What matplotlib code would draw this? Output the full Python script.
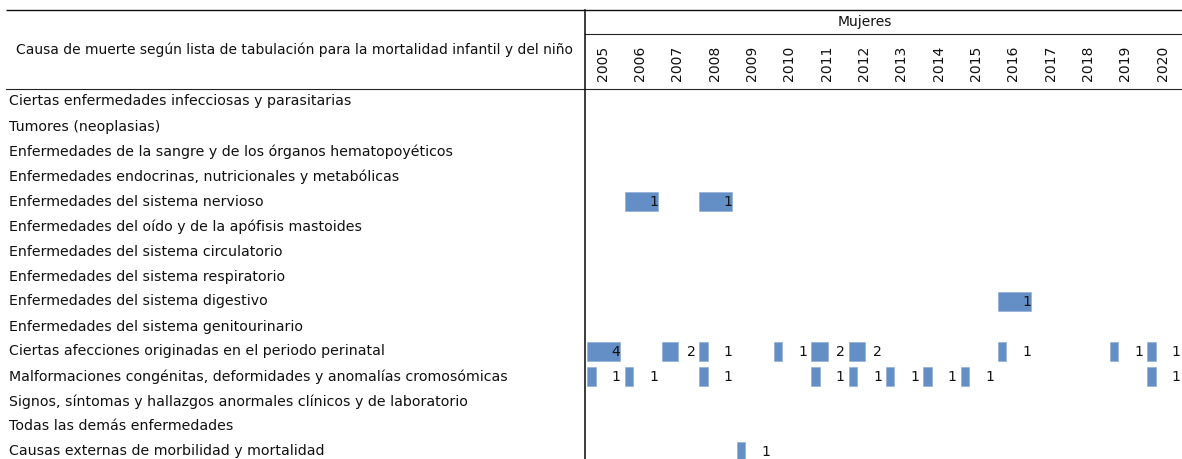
import matplotlib
matplotlib.use("Agg")
import matplotlib.pyplot as plt

# ---- data -------------------------------------------------------------
years = list(range(2005, 2021))

causes = [
    "Ciertas enfermedades infecciosas y parasitarias",
    "Tumores (neoplasias)",
    "Enfermedades de la sangre y de los órganos hematopoyéticos",
    "Enfermedades endocrinas, nutricionales y metabólicas",
    "Enfermedades del sistema nervioso",
    "Enfermedades del oído y de la apófisis mastoides",
    "Enfermedades del sistema circulatorio",
    "Enfermedades del sistema respiratorio",
    "Enfermedades del sistema digestivo",
    "Enfermedades del sistema genitourinario",
    "Ciertas afecciones originadas en el periodo perinatal",
    "Malformaciones congénitas, deformidades y anomalías cromosómicas",
    "Signos, síntomas y hallazgos anormales clínicos y de laboratorio",
    "Todas las demás enfermedades",
    "Causas externas de morbilidad y mortalidad",
]

# deaths per cause and year (missing year = empty cell)
nervioso     = {2006: 1, 2008: 1}
digestivo    = {2016: 1}
perinatal    = {2005: 4, 2007: 2, 2008: 1, 2010: 1, 2011: 2, 2012: 2,
                2016: 1, 2019: 1, 2020: 1}
malformacion = {2005: 1, 2006: 1, 2008: 1, 2011: 1, 2012: 1, 2013: 1,
                2014: 1, 2015: 1, 2020: 1}
externas     = {2009: 1}

values = {
    4: nervioso,
    8: digestivo,
    10: perinatal,
    11: malformacion,
    14: externas,
}

# rows sharing one data-bar scale
bar_groups = [[4], [8], [10, 11, 12, 13, 14]]

title_left = "Causa de muerte según lista de tabulación para la mortalidad infantil y del niño"
title_right = "Mujeres"

# ---- layout (pixels) --------------------------------------------------
W, H = 1182, 459
DPI = 100
PX = 72.0 / DPI          # points per pixel
col_x0 = 586             # left edge of first year column
col_w = 37.33
row_y0 = 89              # top of first data row
row_h = 25
bar_color = "#638EC6"
font = "DejaVu Sans"
ink = "#111111"

fig = plt.figure(figsize=(W / DPI, H / DPI), dpi=DPI)

# overlay axes in pixel units for rules and header text
ov = fig.add_axes([0, 0, 1, 1])
ov.set_xlim(0, W)
ov.set_ylim(H, 0)
ov.axis("off")

ov.plot([6, W], [10, 10], color=ink, lw=1.4 * PX, solid_capstyle="butt")
ov.plot([585, W], [34, 34], color="#222222", lw=1.1 * PX)
ov.plot([6, W], [89, 89], color="#222222", lw=1.1 * PX)
ov.plot([584.5, 584.5], [10, H], color=ink, lw=1.6 * PX)

ov.text(295, 50, title_left, ha="center", va="center",
        fontsize=13.9 * PX, family=font, color=ink)
ov.text(865, 22, title_right, ha="center", va="center",
        fontsize=13.9 * PX, family=font, color=ink)

for i, y in enumerate(years):
    ov.text(col_x0 + col_w * (i + 0.45), 63.5, str(y), rotation=90,
            ha="center", va="center", fontsize=14 * PX, family=font,
            color=ink)

for r, name in enumerate(causes):
    ov.text(9, row_y0 + row_h * (r + 0.5), name, ha="left", va="center",
            fontsize=14.1 * PX, family=font, color=ink)

# data axes: x in column units, y in row units
n_cols_visible = (W - col_x0) / col_w
n_rows_visible = (H - row_y0) / row_h
ax = fig.add_axes([col_x0 / W, 0, (W - col_x0) / W, (H - row_y0) / H])
ax.set_xlim(0, n_cols_visible)
ax.set_ylim(n_rows_visible, 0)
ax.axis("off")

bar_full = 0.885   # fraction of the cell a full bar occupies
for group in bar_groups:
    gmax = max((v for r in group for v in values.get(r, {}).values()),
               default=1)
    for r in group:
        for year, v in values.get(r, {}).items():
            c = years.index(year)
            ax.barh(r + 0.49, v / gmax * bar_full, left=c + 0.035,
                    height=0.74, color=bar_color, edgecolor="#8FADD8",
                    linewidth=0.6 * PX)
            ax.text(c + 0.93, r + 0.53, str(v), ha="right", va="center",
                    fontsize=14 * PX, family=font, color=ink)

fig.savefig("out.png", dpi=DPI)
